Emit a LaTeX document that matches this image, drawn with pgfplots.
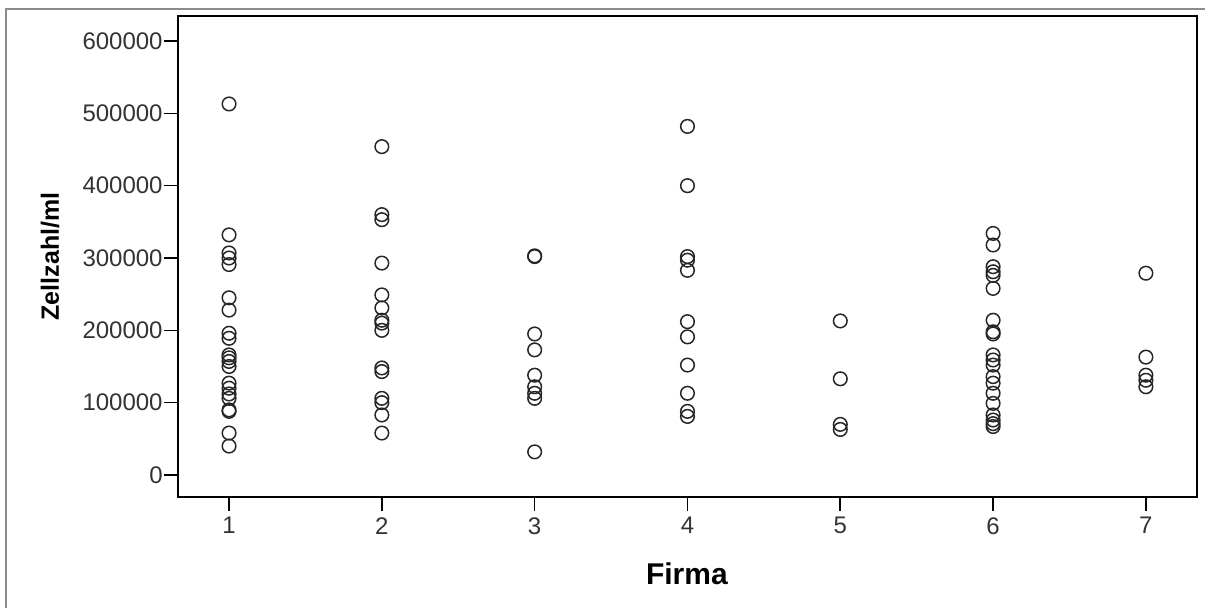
\documentclass[border=0pt]{standalone}
\usepackage{fontspec}
\setmainfont{Liberation Sans}
\usepackage{pgfplots}
\pgfplotsset{compat=1.18}
\begin{document}
\begin{tikzpicture}
\begin{axis}[
  scale only axis,
  width=509.5pt, height=240.5pt,
  xmin=0.666, xmax=7.334,
  ymin=-30400, ymax=634600,
  xtick={1,2,3,4,5,6,7},
  ytick={0,100000,200000,300000,400000,500000,600000},
  scaled y ticks=false,
  /pgf/number format/assume math mode=true,
  yticklabel style={/pgf/number format/fixed,/pgf/number format/1000 sep={},font=\fontsize{12}{14}\selectfont, text=black!80, inner sep=0.5pt},
  xticklabel style={font=\fontsize{12}{14}\selectfont, text=black!80, inner sep=3pt},
  tick align=outside,
  tick pos=left,
  major tick length=7pt,
  tick style={black, line width=0.8pt},
  axis line style={black, line width=0.9pt},
  xlabel={\textbf{Firma}},
  ylabel={\textbf{Zellzahl/ml}},
  xlabel style={font=\fontsize{15}{17}\selectfont, at={(rel axis cs:0.4995,-0.160)}, anchor=center},
  ylabel style={font=\fontsize{12.5}{15}\selectfont, at={(rel axis cs:-0.1256,0.5)}, anchor=center},
  clip=false,
]
\addplot[only marks, mark=o, mark size=3.4pt, mark options={line width=0.75pt, draw=black!85}] table {
x y
1 513000
1 332000
1 307000
1 300000
1 291000
1 245000
1 228000
1 196000
1 189000
1 166000
1 162000
1 157000
1 150000
1 127000
1 120000
1 112000
1 106000
1 90000
1 88000
1 58000
1 40000
2 454000
2 360000
2 353000
2 293000
2 249000
2 231000
2 214000
2 210000
2 200000
2 148000
2 143000
2 106000
2 100000
2 83000
2 58000
3 303000
3 302000
3 195000
3 173000
3 138000
3 122000
3 113000
3 106000
3 32000
4 482000
4 400000
4 302000
4 297000
4 283000
4 212000
4 191000
4 152000
4 113000
4 88000
4 81000
5 213000
5 133000
5 70000
5 63000
6 334000
6 318000
6 288000
6 281000
6 276000
6 258000
6 214000
6 198000
6 195000
6 166000
6 159000
6 152000
6 136000
6 127000
6 113000
6 99000
6 83000
6 76000
6 71000
6 67000
7 279000
7 163000
7 138000
7 131000
7 122000
};
\draw[black!45, line width=0.6pt] (rel axis cs:-0.1688,-0.2308) |- (rel axis cs:1.0079,1.0146);
\coordinate (bl) at (rel axis cs:-0.1747,-0.2308);
\coordinate (tr) at (rel axis cs:1.0079,1.0333);
\end{axis}
\pgfresetboundingbox
\path[use as bounding box] (bl) rectangle (tr);
\end{tikzpicture}
\end{document}
